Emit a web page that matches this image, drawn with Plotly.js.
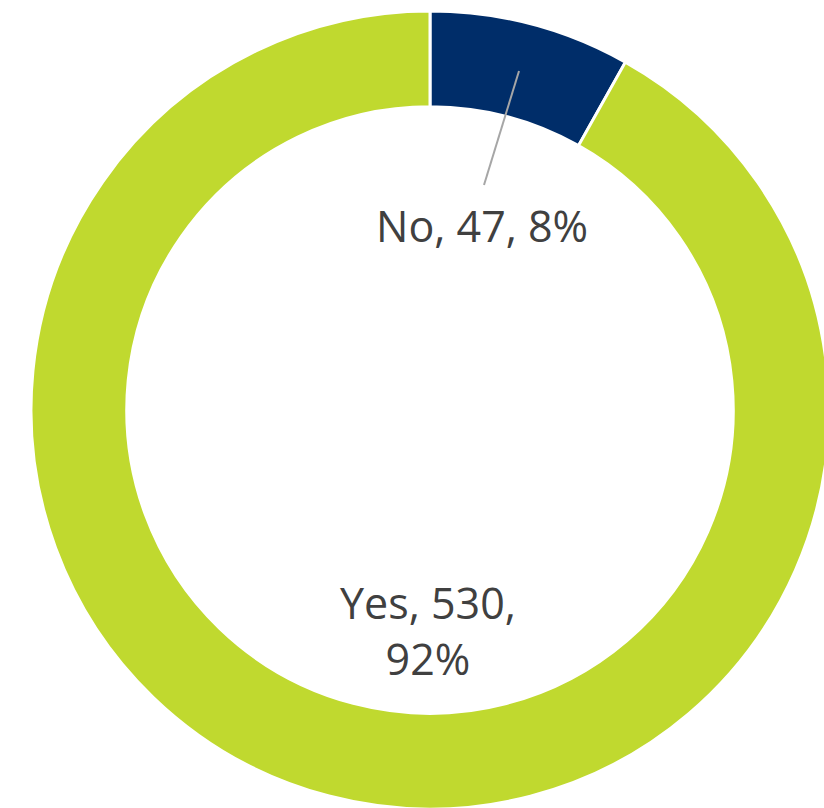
<!DOCTYPE html>
<html>
<head>
<meta charset="utf-8">
<script src="https://cdn.plot.ly/plotly-3.0.1.min.js"></script>
<style>
html,body{margin:0;padding:0;overflow:hidden;background:#fff;}
#chart{width:860px;height:820px;}
</style>
</head>
<body>
<div id="chart"></div>
<script>
const labels = ["No", "Yes"];
const values = [47, 530];
const colors = ["#002D69", "#C0D92F"];

const W = 860, H = 820;
const total = values.reduce((a, b) => a + b, 0);
const pct = values.map(v => Math.round(v / total * 100));
const px = x => x / W;
const py = y => 1 - y / H;

const font = {family: "Open Sans, Noto Sans, sans-serif", size: 43, color: "#404040"};

const data = [{
  type: "pie",
  labels: labels,
  values: values,
  hole: 0.76,
  sort: false,
  direction: "clockwise",
  rotation: 0,
  textinfo: "none",
  hoverinfo: "none",
  marker: {colors: colors, line: {color: "#ffffff", width: 3}},
  domain: {x: [31 / W, 829 / W], y: [11 / H, 809 / H]},
  showlegend: false
}];

const layout = {
  width: W, height: H,
  margin: {l: 0, r: 0, t: 0, b: 0},
  paper_bgcolor: "#ffffff",
  showlegend: false,
  shapes: [{
    type: "line", xref: "paper", yref: "paper",
    x0: px(519), y0: py(71), x1: px(484), y1: py(185),
    line: {color: "#A6A6A6", width: 2}
  }],
  annotations: [
    {xref: "paper", yref: "paper", x: px(482), y: py(225), xanchor: "center", yanchor: "middle",
     text: labels[0] + ", " + values[0] + ", " + pct[0] + "%", showarrow: false, font: font},
    {xref: "paper", yref: "paper", x: px(428), y: py(630), xanchor: "center", yanchor: "middle",
     text: labels[1] + ", " + values[1] + ",<br>" + pct[1] + "%", showarrow: false, font: font}
  ]
};

Plotly.newPlot("chart", data, layout, {staticPlot: true, displayModeBar: false});
</script>
</body>
</html>
